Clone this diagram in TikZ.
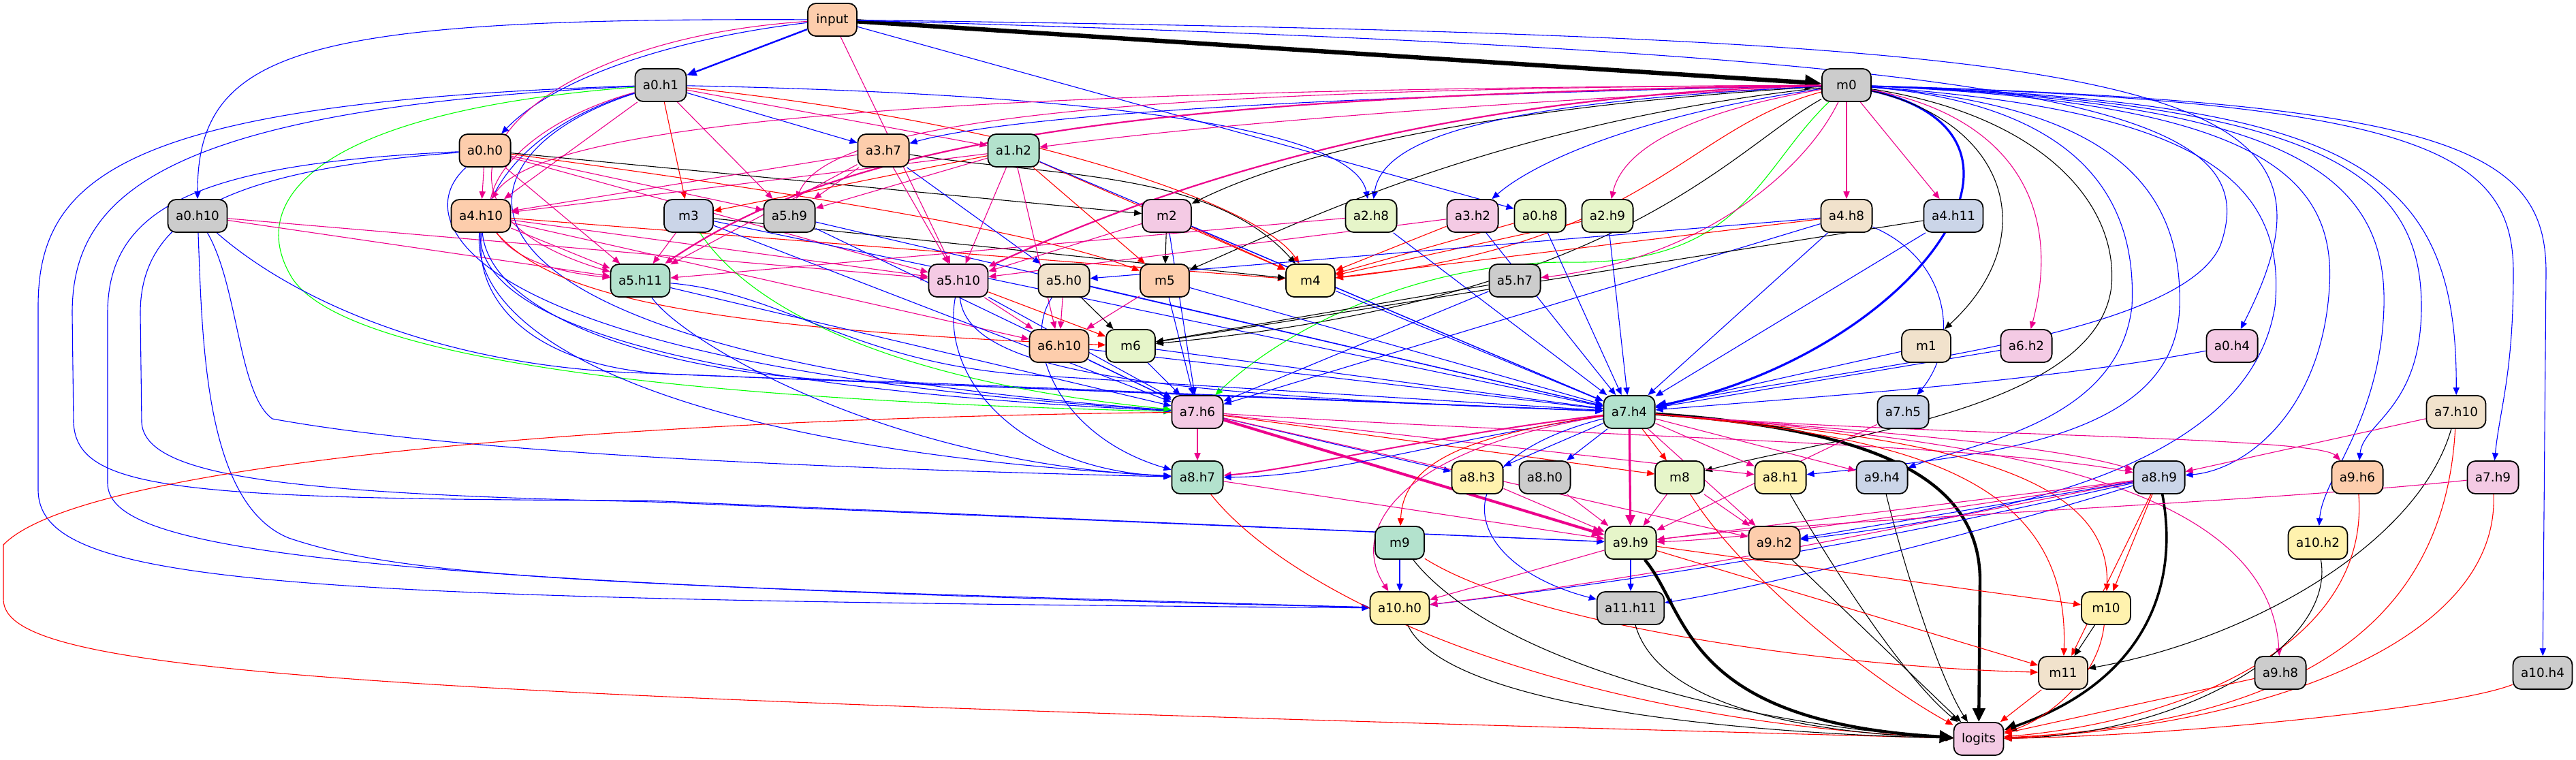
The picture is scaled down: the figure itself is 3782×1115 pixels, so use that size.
\documentclass[tikz,border=0pt]{standalone}
\usepackage{fontspec}
\newfontfamily\nf{DejaVu Sans}
\usetikzlibrary{arrows.meta}
\definecolor{Pg}{HTML}{B3E2CD}
\definecolor{Po}{HTML}{FDCDAC}
\definecolor{Pb}{HTML}{CBD5E8}
\definecolor{Pp}{HTML}{F4CAE4}
\definecolor{Pl}{HTML}{E6F5C9}
\definecolor{Py}{HTML}{FFF2AE}
\definecolor{Pe}{HTML}{F1E2CC}
\definecolor{Pa}{HTML}{CCCCCC}
\pgfdeclarelayer{bgl}\pgfdeclarelayer{edl}\pgfsetlayers{bgl,edl,main}
\begin{document}
\begin{tikzpicture}[x=0.5pt,y=-0.5pt,
  nd/.style={draw=black, line width=0.9pt, rounded corners=6pt, minimum height=24pt, minimum width=36pt, inner xsep=5.75pt, inner ysep=0pt, font=\nf\fontsize{9.2pt}{11pt}\selectfont},
  ar/.style={-{Triangle[length=5.5pt,width=4.6pt]}, line width=0.55pt},
  eB/.style={ar, color=blue}, eM/.style={ar, color=magenta}, eR/.style={ar, color=red},
  eG/.style={ar, color=green}, eK/.style={ar, color=black}]
\begin{pgfonlayer}{bgl}
\fill[white] (0,0) rectangle (3782,1115);
\end{pgfonlayer}
\useasboundingbox (0,0) rectangle (3782,1115);
% nodes
\node[nd, fill=Po] (input) at (1222,29) {input};
\node[nd, fill=Pa] (a0h1) at (970,125) {a0.h1};
\node[nd, fill=Pa] (m0) at (2711,125) {m0};
\node[nd, fill=Po] (a0h0) at (712,221) {a0.h0};
\node[nd, fill=Po] (a3h7) at (1297,221) {a3.h7};
\node[nd, fill=Pg] (a1h2) at (1488,221) {a1.h2};
\node[nd, fill=Pa] (a0h10) at (290,317) {a0.h10};
\node[nd, fill=Po] (a4h10) at (706,317) {a4.h10};
\node[nd, fill=Pb] (m3) at (1011,317) {m3};
\node[nd, fill=Pa] (a5h9) at (1159,317) {a5.h9};
\node[nd, fill=Pp] (m2) at (1713,317) {m2};
\node[nd, fill=Pl] (a2h8) at (2013,317) {a2.h8};
\node[nd, fill=Pp] (a3h2) at (2162,317) {a3.h2};
\node[nd, fill=Pl] (a0h8) at (2261,317) {a0.h8};
\node[nd, fill=Pl] (a2h9) at (2360,317) {a2.h9};
\node[nd, fill=Pe] (a4h8) at (2711,317) {a4.h8};
\node[nd, fill=Pb] (a4h11) at (2868,317) {a4.h11};
\node[nd, fill=Pg] (a5h11) at (940,412) {a5.h11};
\node[nd, fill=Pp] (a5h10) at (1407,412) {a5.h10};
\node[nd, fill=Pe] (a5h0) at (1562,412) {a5.h0};
\node[nd, fill=Po] (m5) at (1710,412) {m5};
\node[nd, fill=Py] (m4) at (1924,412) {m4};
\node[nd, fill=Pa] (a5h7) at (2224,412) {a5.h7};
\node[nd, fill=Po] (a6h10) at (1555,508) {a6.h10};
\node[nd, fill=Pl] (m6) at (1660,508) {m6};
\node[nd, fill=Pe] (m1) at (2828,508) {m1};
\node[nd, fill=Pp] (a6h2) at (2975,508) {a6.h2};
\node[nd, fill=Pp] (a0h4) at (3277,508) {a0.h4};
\node[nd, fill=Pp] (a7h6) at (1758,605) {a7.h6};
\node[nd, fill=Pg] (a7h4) at (2392,605) {a7.h4};
\node[nd, fill=Pb] (a7h5) at (2794,605) {a7.h5};
\node[nd, fill=Pe] (a7h10) at (3606,605) {a7.h10};
\node[nd, fill=Pg] (a8h7) at (1758,701) {a8.h7};
\node[nd, fill=Py] (a8h3) at (2169,701) {a8.h3};
\node[nd, fill=Pa] (a8h0) at (2268,701) {a8.h0};
\node[nd, fill=Pl] (m8) at (2466,701) {m8};
\node[nd, fill=Py] (a8h1) at (2614,701) {a8.h1};
\node[nd, fill=Pb] (a9h4) at (2763,701) {a9.h4};
\node[nd, fill=Pb] (a8h9) at (3170,701) {a8.h9};
\node[nd, fill=Po] (a9h6) at (3461,701) {a9.h6};
\node[nd, fill=Pp] (a7h9) at (3660,701) {a7.h9};
\node[nd, fill=Pg] (m9) at (2055,797) {m9};
\node[nd, fill=Pl] (a9h9) at (2394,797) {a9.h9};
\node[nd, fill=Po] (a9h2) at (2605,797) {a9.h2};
\node[nd, fill=Py] (a10h2) at (3403,797) {a10.h2};
\node[nd, fill=Py] (a10h0) at (2055,893) {a10.h0};
\node[nd, fill=Pa] (a11h11) at (2394,893) {a11.h11};
\node[nd, fill=Py] (m10) at (3092,893) {m10};
\node[nd, fill=Pe] (m11) at (3029,988) {m11};
\node[nd, fill=Pa] (a9h8) at (3348,988) {a9.h8};
\node[nd, fill=Pa] (a10h4) at (3733,988) {a10.h4};
\node[nd, fill=Pp] (logits) at (2905,1085) {logits};
\begin{pgfonlayer}{edl}
% input
\draw[eK, line width=3.2pt, -{Triangle[length=12pt,width=11pt]}] (input) -- (m0);
\draw[eB, line width=1.2pt, -{Triangle[length=7pt,width=6pt]}] (input) -- (a0h1);
\draw[eB] (input) .. controls (450,26) and (290,70) .. (a0h10);
\draw[eB] (input) .. controls (1000,55) and (820,110) .. (a0h0);
\draw[eB] (input) -- (a0h8);
\draw[eB] (input) .. controls (3200,55) and (3480,110) .. (a0h4);
\draw[eB] (input) .. controls (3050,80) and (3330,160) .. (3260,360) .. controls (3200,500) and (2700,540) .. (a7h4);
\draw[eM] (input) .. controls (750,60) and (560,300) .. (a5h11);
\draw[eM] (input) -- (a5h10);
% a0.h1
\draw[eB] (a0h1) -- (a3h7);
\draw[eM] (a0h1) -- (a1h2);
\draw[eR] (a0h1) -- (m3);
\draw[eM] (a0h1) -- (a5h9);
\draw[eM] (a0h1) -- (a4h10);
\draw[eB] (a0h1) .. controls (1700,140) and (1990,200) .. (a2h8);
\draw[eR] (a0h1) .. controls (1500,180) and (1850,300) .. (m4);
\draw[eM] (a0h1) .. controls (700,200) and (620,380) .. (a5h11);
\draw[eG] (a0h1) .. controls (450,165) and (360,300) .. (430,410) .. controls (520,540) and (1100,590) .. (a7h6);
\draw[eB] (a0h1) .. controls (180,150) and (56,260) .. (56,450) -- (56,720) .. controls (58,860) and (400,880) .. (a10h0);
\draw[eB] (a0h1) .. controls (230,160) and (106,290) .. (106,460) -- (108,620) .. controls (112,720) and (260,733) .. (950,735) -- (a9h9);
\draw[eB] (a0h1) .. controls (640,230) and (580,520) .. (a7h6);
\draw[eB] (a0h1) .. controls (620,230) and (620,540) .. (1000,550) -- (a7h4);
% a0.h0
\draw[eM] (a0h0) -- (a4h10);
\draw[eK] (a0h0) -- (m2);
\draw[eR] (a0h0) .. controls (1000,260) and (1500,330) .. (m5);
\draw[eM] (a0h0) -- (a5h9);
\draw[eM] (a0h0) -- (a5h11);
\draw[eM] (a0h0) -- (a5h10);
\draw[eB] (a0h0) .. controls (300,240) and (158,300) .. (158,460) -- (158,710) .. controls (160,800) and (420,855) .. (a10h0);
\draw[eB] (a0h0) .. controls (330,250) and (206,320) .. (206,460) -- (208,620) .. controls (212,700) and (420,725) .. (960,737) -- (a9h9);
\draw[eB] (a0h0) .. controls (590,330) and (700,540) .. (a7h6);
% a0.h10
\draw[eM] (a0h10) -- (a5h11);
\draw[eM] (a0h10) -- (a5h10);
\draw[eB] (a0h10) .. controls (297,500) and (300,740) .. (424,790) .. controls (600,850) and (900,860) .. (a10h0);
\draw[eB] (a0h10) .. controls (350,420) and (350,580) .. (400,615) .. controls (700,670) and (1300,690) .. (a8h7);
\draw[eB] (a0h10) .. controls (430,440) and (650,540) .. (950,548) -- (a7h4);
% a4.h10
\draw[eM] (a4h10) -- (a5h11);
\draw[eM] (a4h10) -- (a5h10);
\draw[eM] (a4h10) -- (a6h10);
\draw[eR] (a4h10) .. controls (800,420) and (950,480) .. (m6);
\draw[eR] (a4h10) -- (m4);
\draw[eB] (a4h10) .. controls (700,470) and (1000,570) .. (a7h6);
\draw[eB] (a4h10) .. controls (720,470) and (1000,560) .. (1300,560) -- (a7h4);
\draw[eB] (a4h10) .. controls (690,500) and (1000,660) .. (a8h7);
% m3, a5.h9
\draw[eM] (m3) -- (a5h11);
\draw[eG] (m3) .. controls (1100,450) and (1300,560) .. (a7h6);
\draw[eK] (m3) -- (m4);
\draw[eB] (m3) -- (a7h4);
\draw[eB] (m3) -- (a7h6);
\draw[eB] (a5h9) -- (a7h4);
\draw[eB] (a5h9) -- (a7h6);
% a3.h7
\draw[eM] (a3h7) -- (a4h10);
\draw[eM] (a3h7) -- (a5h9);
\draw[eM] (a3h7) -- (a5h10);
\draw[eM] (a3h7) -- (a5h11);
\draw[eK] (a3h7) .. controls (1550,260) and (1780,250) .. (m4);
\draw[eB] (a3h7) -- (a5h0);
% a1.h2
\draw[eR] (a1h2) -- (m3);
\draw[eM] (a1h2) -- (a5h9);
\draw[eM] (a1h2) -- (a4h10);
\draw[eM] (a1h2) -- (a5h10);
\draw[eM] (a1h2) -- (a6h10);
\draw[eR] (a1h2) -- (m5);
\draw[eR] (a1h2) -- (m4);
\draw[eB] (a1h2) -- (a7h4);
% m0 leftwards
\draw[eB] (m0) .. controls (2000,140) and (1500,165) .. (a3h7);
\draw[eM] (m0) .. controls (2200,150) and (1800,180) .. (a1h2);
\draw[eK] (m0) .. controls (2300,150) and (1950,200) .. (m2);
\draw[eB] (m0) .. controls (2200,150) and (2030,200) .. (a2h8);
\draw[eB] (m0) .. controls (2400,170) and (2250,240) .. (a3h2);
\draw[eM] (m0) .. controls (2450,170) and (2380,230) .. (a2h9);
\draw[eM] (m0) -- (a4h8);
\draw[eM] (m0) -- (a4h11);
\draw[eM] (m0) .. controls (1700,130) and (1220,170) .. (a5h9);
\draw[eM] (m0) .. controls (1500,130) and (800,170) .. (a4h10);
\draw[eM, line width=1.1pt] (m0) .. controls (1700,140) and (1250,200) .. (a5h11);
\draw[eM, line width=1.1pt] (m0) .. controls (2050,140) and (1650,300) .. (a5h10);
\draw[eK] (m0) .. controls (2200,180) and (1900,330) .. (m5);
\draw[eR] (m0) .. controls (2470,190) and (2420,360) .. (m4);
\draw[eK] (m0) .. controls (2540,220) and (2380,440) .. (m6);
\draw[eG] (m0) .. controls (2580,250) and (2560,390) .. (2300,385) .. controls (2100,385) and (1900,470) .. (a7h6);
\draw[eM] (m0) .. controls (2650,250) and (2500,380) .. (a5h7);
\draw[eB, line width=1.6pt, -{Triangle[length=8pt,width=7pt]}] (m0) .. controls (3050,200) and (2800,520) .. (a7h4);
% m0 rightwards
\draw[eK] (m0) .. controls (2950,180) and (3000,350) .. (m1);
\draw[eM] (m0) .. controls (2950,170) and (3030,300) .. (a6h2);
\draw[eK] (m0) .. controls (3000,170) and (3110,300) .. (3100,420) .. controls (3080,600) and (2700,640) .. (m8);
\draw[eB] (m0) .. controls (3000,150) and (3140,250) .. (3130,450) .. controls (3110,620) and (2900,650) .. (a9h4);
\draw[eB] (m0) .. controls (3080,155) and (3205,260) .. (3200,450) .. controls (3195,650) and (2900,670) .. (a8h1);
\draw[eB] (m0) .. controls (3200,160) and (3360,250) .. (3340,450) .. controls (3300,700) and (2900,760) .. (a9h2);
\draw[eB] (m0) .. controls (3300,150) and (3430,250) .. (3420,420) .. controls (3410,600) and (3300,690) .. (a8h9);
\draw[eB] (m0) .. controls (3350,150) and (3505,250) .. (3500,450) .. controls (3495,620) and (3410,700) .. (a10h2);
\draw[eB] (m0) .. controls (3400,150) and (3555,250) .. (3555,450) .. controls (3555,600) and (3470,620) .. (a9h6);
\draw[eB] (m0) .. controls (3450,150) and (3608,240) .. (a7h10);
\draw[eB] (m0) .. controls (3550,150) and (3690,220) .. (3690,400) .. controls (3690,550) and (3670,600) .. (a7h9);
\draw[eB] (m0) .. controls (3600,150) and (3738,220) .. (3738,400) -- (a10h4);
% m2
\draw[eK] (m2) -- (m5);
\draw[eM] (m2) -- (a5h10);
\draw[eB] (m2) -- (a7h6);
\draw[eB] (m2) -- (a7h4);
\draw[eR] (m2) -- (m4);
% row 317 right
\draw[eM] (a2h8) -- (a5h11);
\draw[eB] (a2h8) -- (a7h4);
\draw[eM] (a3h2) -- (a5h10);
\draw[eR] (a3h2) -- (m4);
\draw[eB] (a3h2) -- (a7h4);
\draw[eR] (a0h8) -- (m4);
\draw[eB] (a0h8) -- (a7h4);
\draw[eR] (a2h9) -- (m4);
\draw[eB] (a2h9) -- (a7h4);
\draw[eR] (a4h8) -- (m4);
\draw[eB] (a4h8) -- (a5h0);
\draw[eB] (a4h8) -- (a7h4);
\draw[eB] (a4h8) -- (a7h6);
\draw[eB] (a4h8) .. controls (2860,380) and (2880,500) .. (a7h5);
\draw[eK] (a4h11) -- (m6);
\draw[eB] (a4h11) -- (a7h4);
% row 412
\draw[eB] (a5h11) .. controls (1150,430) and (1250,530) .. (1500,550) -- (a7h4);
\draw[eB] (a5h11) -- (a7h6);
\draw[eB] (a5h11) .. controls (1000,500) and (1300,680) .. (a8h7);
\draw[eM] (a5h10) -- (a6h10);
\draw[eR] (a5h10) -- (m6);
\draw[eB] (a5h10) -- (a7h6);
\draw[eB] (a5h10) .. controls (1420,550) and (1700,580) .. (a7h4);
\draw[eB] (a5h10) .. controls (1380,560) and (1500,690) .. (a8h7);
\draw[eM] (a5h0) -- (a6h10);
\draw[eK] (a5h0) -- (m6);
\draw[eB] (a5h0) -- (a7h4);
\draw[eB] (a5h0) .. controls (1500,500) and (1550,640) .. (a8h7);
\draw[eM] (m5) -- (a6h10);
\draw[eB] (m5) -- (a7h6);
\draw[eB] (m5) -- (a7h4);
\draw[eB] (m4) -- (a7h4);
\draw[eK] (a5h7) -- (m6);
\draw[eB] (a5h7) -- (a7h6);
% row 508
\draw[eB] (a6h10) -- (a7h6);
\draw[eB] (a6h10) -- (a7h4);
\draw[eB] (m6) -- (a7h6);
\draw[eB] (m6) -- (a7h4);
\draw[eB] (m1) -- (a7h4);
\draw[eB] (a6h2) -- (a7h4);
\draw[eB] (a0h4) .. controls (3000,560) and (2700,580) .. (a7h4);
% a7.h6
\draw[eM] (a7h6) -- (a8h7);
\draw[eM, line width=2pt, -{Triangle[length=9pt,width=8pt]}] (a7h6) -- (a9h9);
\draw[eB] (a7h6) -- (a8h3);
\draw[eR] (a7h6) -- (m8);
\draw[eM] (a7h6) -- (a8h1);
\draw[eM] (a7h6) -- (a9h2);
\draw[eM] (a7h6) .. controls (2300,640) and (2900,650) .. (a8h9);
\draw[eR] (a7h6) .. controls (900,615) and (120,680) .. (5,800) -- (5,880) .. controls (5,990) and (500,1020) .. (logits);
% a7.h4
\draw[eK, line width=2.2pt, -{Triangle[length=10pt,width=9pt]}] (a7h4) .. controls (2750,630) and (2905,700) .. (2907,850) -- (logits);
\draw[eM, line width=1.6pt, -{Triangle[length=8pt,width=7pt]}] (a7h4) -- (a9h9);
\draw[eB] (a7h4) -- (a8h3);
\draw[eB] (a7h4) -- (a8h0);
\draw[eR] (a7h4) -- (m8);
\draw[eM, line width=1pt] (a7h4) .. controls (2100,640) and (1900,690) .. (a8h7);
\draw[eB] (a7h4) .. controls (2100,650) and (1950,700) .. (a8h7);
\draw[eM] (a7h4) -- (a8h1);
\draw[eM] (a7h4) -- (a9h4);
\draw[eM] (a7h4) -- (a9h2);
\draw[eR] (a7h4) .. controls (2150,640) and (2060,680) .. (m9);
\draw[eM] (a7h4) .. controls (2050,660) and (1980,780) .. (a10h0);
\draw[eB] (a7h4) .. controls (2100,680) and (2150,830) .. (a11h11);
\draw[eM] (a7h4) .. controls (2700,630) and (3000,650) .. (a8h9);
\draw[eM] (a7h4) .. controls (2800,640) and (3400,640) .. (a9h6);
\draw[eM] (a7h4) .. controls (2900,645) and (3330,700) .. (a9h8);
\draw[eR] (a7h4) .. controls (2800,640) and (3100,680) .. (m10);
\draw[eR] (a7h4) .. controls (2780,640) and (3040,690) .. (m11);
% row 605 others
\draw[eM] (a7h5) -- (a9h9);
\draw[eM] (a7h10) -- (a8h9);
\draw[eK] (a7h10) .. controls (3550,800) and (3300,940) .. (m11);
\draw[eR] (a7h10) .. controls (3590,900) and (3400,1060) .. (logits);
% row 701
\draw[eM] (a8h7) -- (a9h9);
\draw[eR] (a8h7) .. controls (1900,880) and (2300,1060) .. (logits);
\draw[eM] (a8h3) -- (a9h9);
\draw[eM] (a8h0) -- (a9h9);
\draw[eM] (m8) -- (a9h9);
\draw[eM] (m8) -- (a9h2);
\draw[eR] (m8) .. controls (2560,850) and (2750,1000) .. (logits);
\draw[eK] (a8h1) .. controls (2700,850) and (2800,1000) .. (logits);
\draw[eK] (a9h4) .. controls (2800,850) and (2850,1000) .. (logits);
\draw[eK, line width=1.8pt, -{Triangle[length=9pt,width=8pt]}] (a8h9) .. controls (3200,860) and (3150,1000) .. (logits);
\draw[eM] (a8h9) -- (a9h9);
\draw[eM] (a8h9) .. controls (2900,740) and (2600,790) .. (a9h9);
\draw[eB] (a8h9) .. controls (2900,760) and (2600,830) .. (a10h0);
\draw[eM] (a8h9) .. controls (2900,750) and (2500,840) .. (a10h0);
\draw[eB] (a8h9) .. controls (2950,770) and (2600,860) .. (a11h11);
\draw[eB] (a8h9) -- (a9h2);
\draw[eR] (a8h9) -- (m10);
\draw[eR] (a8h9) -- (m11);
\draw[eR] (a9h6) .. controls (3480,950) and (3200,1060) .. (logits);
\draw[eM] (a7h9) .. controls (3300,740) and (2700,760) .. (a9h9);
\draw[eR] (a7h9) .. controls (3670,950) and (3300,1070) .. (logits);
% row 797
\draw[eB] (m9) -- (a10h0);
\draw[eK] (m9) .. controls (2200,980) and (2600,1070) .. (logits);
\draw[eR] (m9) .. controls (2250,920) and (2700,980) .. (m11);
\draw[eM] (a9h9) -- (a10h0);
\draw[eB] (a9h9) -- (a11h11);
\draw[eK, line width=2.2pt, -{Triangle[length=10pt,width=9pt]}] (a9h9) .. controls (2480,900) and (2470,1060) .. (logits);
\draw[eR] (a9h9) -- (m10);
\draw[eR] (a9h9) -- (m11);
\draw[eK] (a9h2) -- (logits);
\draw[eK] (a10h2) .. controls (3430,950) and (3200,1080) .. (logits);
% row 893 and below
\draw[eK] (a10h0) .. controls (2120,1030) and (2500,1075) .. (logits);
\draw[eK] (a11h11) .. controls (2430,1020) and (2600,1075) .. (logits);
\draw[eK] (m10) -- (m11);
\draw[eR] (m10) .. controls (3080,1000) and (3000,1060) .. (logits);
\draw[eR] (m11) -- (logits);
\draw[eR] (a9h8) -- (logits);
\draw[eR] (a10h4) .. controls (3600,1040) and (3200,1080) .. (logits);
\end{pgfonlayer}
\end{tikzpicture}
\end{document}
